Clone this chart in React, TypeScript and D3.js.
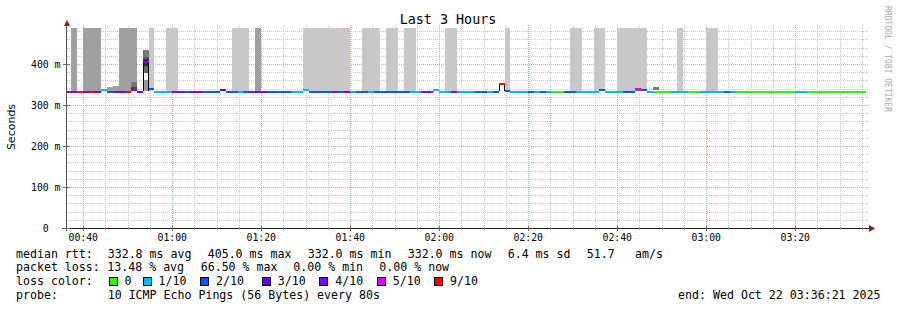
import React from 'react';
import * as d3 from 'd3';

const TITLE = 'Last 3 Hours';
const Y_TITLE = 'Seconds';
const WATERMARK = 'RRDTOOL / TOBI OETIKER';

const graphStart = new Date(2025, 9, 22, 0, 36, 21);
const graphEnd = new Date(2025, 9, 22, 3, 36, 21);
const firstSampleStart = new Date(2025, 9, 22, 0, 36, 0);
const STEP_S = 80;
const Y_MAX_MS = 487.8;

const yMajorTicks = [0, 100, 200, 300, 400];
const yTickLabels = ['0  ', '100 m', '200 m', '300 m', '400 m'];

// loss count (of 10 pings) for each 80 s sample
const lossCount = [
  4, 4, 9, 4, 9, 4, 1, 2, 4, 4,
  9, 4, 4, 4, 2, 1, 1, 1, 4, 4,
  2, 4, 4, 2, 2, 2, 3, 2, 2, 1,
  2, 4, 4, 4, 2, 2, 2, 2, 1, 1,
  1, 2, 2, 2, 2, 4, 2, 4, 1, 2,
  2, 1, 2, 2, 2, 2, 2, 2, 1, 1,
  4, 4, 1, 1, 1, 4, 1, 1, 1, 2,
  2, 1, 2, 9, 2, 1, 1, 1, 2, 1,
  2, 1, 0, 0, 2, 2, 1, 1, 1, 1,
  2, 1, 1, 1, 2, 2, 5, 2, 1, 0,
  0, 0, 1, 1, 1, 0, 0, 1, 1, 1,
  1, 2, 1, 0, 0, 0, 0, 0, 0, 0,
  0, 0, 0, 1, 1, 0, 0, 0, 0, 0,
  0, 0, 0, 0, 0,
];

// median rtt (ms) for each sample
const medianMs = [
  332, 332, 332, 332, 332, 332, 336, 332, 332, 332,
  332, 336, 332, 405, 338, 332, 332, 332, 332, 332,
  332, 332, 332, 332, 332, 332, 336, 332, 332, 332,
  332, 332, 332, 332, 332, 332, 332, 332, 332, 332,
  336, 332, 332, 332, 332, 332, 332, 332, 332, 332,
  332, 332, 332, 332, 332, 332, 332, 332, 332, 332,
  332, 332, 336, 332, 332, 332, 332, 332, 332, 332,
  332, 332, 332, 350, 334, 332, 332, 332, 332, 332,
  332, 332, 332, 332, 332, 332, 332, 332, 332, 332,
  336, 332, 332, 332, 332, 332, 339, 336, 332, 332,
  332, 332, 332, 332, 332, 332, 332, 332, 332, 332,
  332, 332, 332, 332, 332, 332, 332, 332, 332, 332,
  332, 332, 332, 332, 332, 332, 332, 332, 332, 332,
  332, 332, 332, 332, 332,
];

// samples with light smoke reaching above the graph
const smokeLight = [14, 17, 18, 28, 29, 30, 40, 41, 42, 43, 44, 45, 46, 47, 50, 51, 52, 54, 55, 57, 58, 64, 65, 74, 85, 86, 89, 90, 93, 94, 95, 96, 97, 103, 108, 109];
// [sample, top ms] medium smoke
const smokeMedium: [number, number][] = [[1, 490], [3, 490], [4, 490], [5, 490], [7, 344], [8, 346], [9, 490], [10, 490], [11, 490], [32, 490]];
// [sample, low ms, high ms, colour] detailed smoke bands
const smokeBands: [number, number, number, string][] = [
  [11, 344, 356, '#777777'], [11, 339, 344, '#444444'],
  [13, 417, 434, '#777777'], [13, 412, 417, '#555555'], [13, 407, 412, '#333333'],
  [13, 395, 402, '#333333'], [13, 378, 395, '#666666'], [13, 361, 378, '#ffffff'], [13, 333, 361, '#999999'],
  [73, 333, 350, '#ffffff'],
  [96, 333, 339, '#666666'],
  [99, 337, 344, '#777777'],
];
const smokeOutline: [number, number, number][] = [[13, 333, 405], [73, 333, 350]];
const SMOKE_BASE = 333;

const lossLegend = ['0', '1/10', '2/10', '3/10', '4/10', '5/10', '9/10'];
const lossValues = [0, 1, 2, 3, 4, 5, 9];
const lossColors = ['#26ff00', '#00b8ff', '#0059ff', '#5e00ff', '#7e00ff', '#dd00ff', '#ff0000'];

const rttItems = ['332.8 ms avg', '405.0 ms max', '332.0 ms min', '332.0 ms now', '6.4 ms sd', '51.7', 'am/s'];
const lossItems = ['13.48 % avg', '66.50 % max', '0.00 % min', '0.00 % now'];
const probeText = '10 ICMP Echo Pings (56 Bytes) every 80s';
const endText = 'end: Wed Oct 22 03:36:21 2025';

const W = 897, H = 310;
const PL = 67, PR = 868, PT = 28, PB = 228;
const MONO = '"DejaVu Sans Mono", monospace';

export default function App() {
  const x = d3.scaleTime().domain([graphStart, graphEnd]).range([PL, PR]);
  const y = d3.scaleLinear().domain([0, Y_MAX_MS]).range([PB, PT]);
  const sStart = (i: number) => new Date(firstSampleStart.getTime() + i * STEP_S * 1000);
  const sEnd = (i: number) => new Date(firstSampleStart.getTime() + (i + 1) * STEP_S * 1000);
  const colorOf = (l: number) => lossColors[lossValues.indexOf(l)];

  const majorX = d3.timeMinute.every(20)!.range(graphStart, graphEnd);
  const minorX = d3.timeMinute.every(5)!.range(graphStart, graphEnd).filter(d => d.getMinutes() % 20 !== 0);
  const minorY = d3.range(20, Y_MAX_MS, 20).filter(v => v % 100 !== 0);
  const fmt = d3.timeFormat('%H:%M');

  const rect = (i: number, lo: number, hi: number) => {
    const x0 = Math.max(PL, x(sStart(i)));
    const x1 = Math.min(PR, x(sEnd(i)));
    const yt = y(Math.min(hi, Y_MAX_MS));
    return { x: x0, y: yt, width: Math.max(0, x1 - x0), height: y(lo) - yt };
  };

  const rttX = [107.7, 207.7, 307.7, 407.7, 507.7, 586.7, 635];
  const lossX = [107.3, 200.7, 293.3, 379.3];
  const swX = [108.5, 142.5, 200, 261.7, 319.3, 376.7, 434];

  return (
    <svg width={W} height={H} style={{ position: 'absolute', left: 0, top: 0, background: '#fff' }} fontFamily={MONO}>
      <rect x={0} y={0} width={W} height={H} fill="#ffffff" />
      <defs>
        <clipPath id="plot"><rect x={PL} y={PT} width={PR - PL} height={PB - PT} /></clipPath>
      </defs>
      {/* grid */}
      <g shapeRendering="crispEdges">
        {minorY.map(v => (
          <line key={'hy' + v} x1={PL} x2={PR} y1={Math.round(y(v)) + 0.5} y2={Math.round(y(v)) + 0.5} stroke="#c8c8c8" strokeDasharray="1,1" />
        ))}
        {minorX.map(d => (
          <line key={'vx' + d.getTime()} x1={Math.round(x(d)) + 0.5} x2={Math.round(x(d)) + 0.5} y1={PT - 3} y2={PB} stroke="#c8c8c8" strokeDasharray="1,1" />
        ))}
        {yMajorTicks.slice(1).map(v => (
          <line key={'my' + v} x1={PL} x2={PR} y1={Math.round(y(v)) + 0.5} y2={Math.round(y(v)) + 0.5} stroke="#f29a9a" strokeDasharray="1,1" />
        ))}
        {majorX.map(d => (
          <line key={'mx' + d.getTime()} x1={Math.round(x(d)) + 0.5} x2={Math.round(x(d)) + 0.5} y1={PT - 3} y2={PB} stroke="#f29a9a" strokeDasharray="1,1" />
        ))}
      </g>
      {/* smoke */}
      <g clipPath="url(#plot)" shapeRendering="crispEdges">
        {smokeLight.map(i => <rect key={'sl' + i} {...rect(i, SMOKE_BASE, 490)} fill="#c8c8c8" />)}
        {smokeMedium.map(([i, top]) => <rect key={'sm' + i} {...rect(i, SMOKE_BASE, top)} fill="#a0a0a0" />)}
        {smokeBands.map(([i, lo, hi, c], k) => <rect key={'sb' + k} {...rect(i, lo, hi)} fill={c} />)}
        {smokeOutline.map(([i, lo, hi]) => {
          const r = rect(i, lo, hi);
          return (
            <g key={'so' + i}>
              <rect x={r.x} y={r.y} width={1} height={r.height} fill="#000" />
              <rect x={r.x + r.width - 1} y={r.y} width={1} height={r.height} fill="#000" />
            </g>
          );
        })}
        {/* median coloured by loss */}
        {medianMs.map((m, i) => {
          const x0 = Math.max(PL, x(sStart(i)));
          const x1 = Math.min(PR, x(sEnd(i)));
          return <rect key={'md' + i} x={x0} y={y(m) - 1} width={x1 - x0} height={2} fill={colorOf(lossCount[i])} />;
        })}
      </g>
      {/* axes */}
      <g shapeRendering="crispEdges">
        <line x1={66.5} x2={66.5} y1={PB + 3} y2={PT - 5} stroke="#555" />
        <line x1={62} x2={PR + 1} y1={228.5} y2={228.5} stroke="#222" />
        {yMajorTicks.map(v => (
          <line key={'yt' + v} x1={63} x2={70} y1={Math.round(y(v)) + 0.5} y2={Math.round(y(v)) + 0.5} stroke="#666" />
        ))}
        {majorX.map(d => (
          <line key={'xt' + d.getTime()} x1={Math.round(x(d)) + 0.5} x2={Math.round(x(d)) + 0.5} y1={226} y2={231} stroke="#666" />
        ))}
        {minorX.map(d => (
          <line key={'xm' + d.getTime()} x1={Math.round(x(d)) + 0.5} x2={Math.round(x(d)) + 0.5} y1={227} y2={230} stroke="#999" />
        ))}
      </g>
      <path d={`M64,26 L70,26 L67,20 Z`} fill="#8b1a1a" />
      <path d={`M869,225 L869,232 L875,228.5 Z`} fill="#8b1a1a" />
      {/* tick labels */}
      {yMajorTicks.map((v, k) => (
        <text key={'yl' + v} x={60.5} y={Math.round(y(v)) + 3.5} fontSize={9.8} textAnchor="end" fill="#000" style={{ whiteSpace: 'pre' }}>{yTickLabels[k]}</text>
      ))}
      {majorX.map(d => (
        <text key={'xl' + d.getTime()} x={x(d)} y={240.5} fontSize={9.8} textAnchor="middle" fill="#000">{fmt(d)}</text>
      ))}
      {/* titles */}
      <text x={448} y={24} fontSize={13.4} textAnchor="middle" fill="#000">{TITLE}</text>
      <text transform="translate(15,127) rotate(-90)" fontFamily='"DejaVu Sans", sans-serif' fontSize={11} textAnchor="middle" fill="#000">{Y_TITLE}</text>
      <text transform="translate(885,59) rotate(90)" fontSize={8} textAnchor="middle" fill="#aaaaaa">{WATERMARK}</text>
      {/* legend */}
      <g fontSize={11.6} fill="#000">
        <text x={16} y={257.5}>median rtt:</text>
        {rttItems.map((t, k) => <text key={'r' + k} x={rttX[k]} y={257.5}>{t}</text>)}
        <text x={16} y={271.2}>packet loss:</text>
        {lossItems.map((t, k) => <text key={'l' + k} x={lossX[k]} y={271.2}>{t}</text>)}
        <text x={16} y={285}>loss color:</text>
        {lossLegend.map((t, k) => (
          <g key={'lc' + k}>
            <rect x={swX[k] + 0.5} y={277.5} width={8} height={8} fill={lossColors[k]} stroke="#000" strokeWidth={1} shapeRendering="crispEdges" />
            <text x={swX[k] + 16} y={285}>{t}</text>
          </g>
        ))}
        <text x={16} y={298.7}>probe:</text>
        <text x={107.7} y={298.7}>{probeText}</text>
        <text x={880.5} y={298.7} textAnchor="end">{endText}</text>
      </g>
    </svg>
  );
}
